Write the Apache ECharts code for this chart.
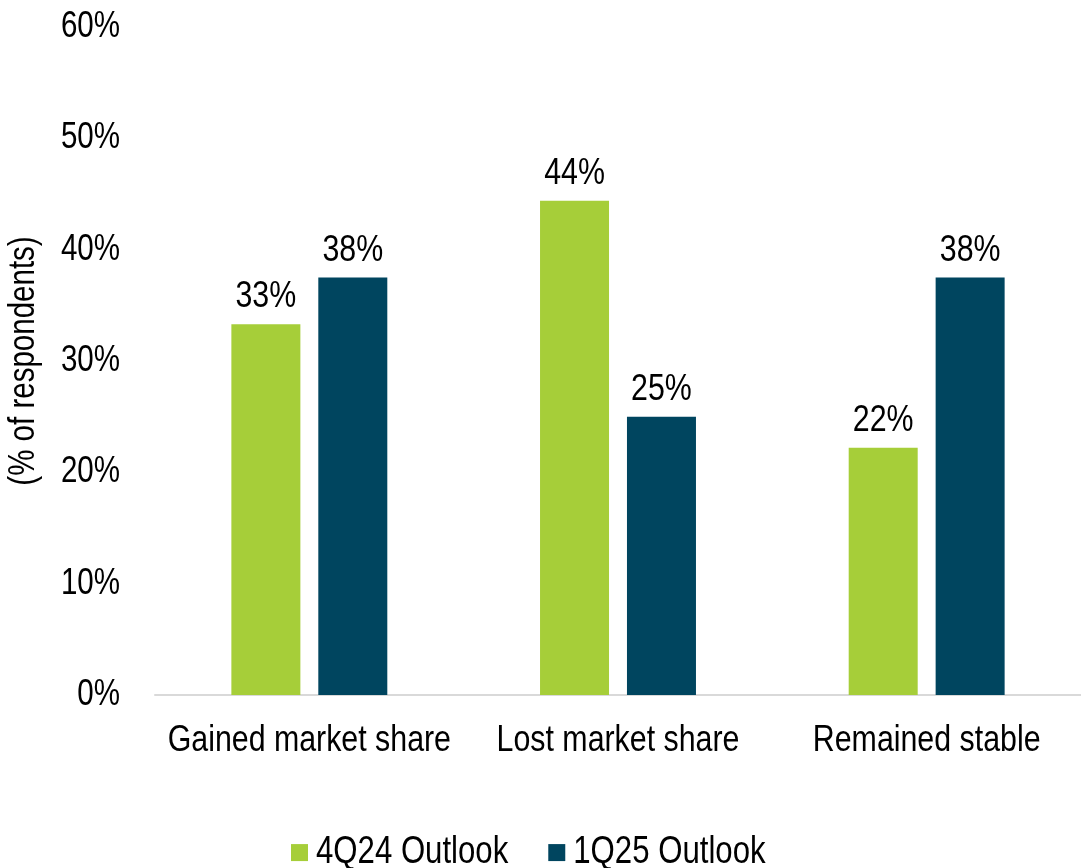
<!DOCTYPE html>
<html>
<head>
<meta charset="utf-8">
<script src="https://cdn.jsdelivr.net/npm/echarts@6/dist/echarts.min.js"></script>
<style>
  html, body { margin: 0; padding: 0; background: #fff; }
  #chart { width: 1081px; height: 868px; }
</style>
</head>
<body>
<div id="chart"></div>
<script>
const categories = ['Gained market share', 'Lost market share', 'Remained stable'];
const seriesNames = ['4Q24 Outlook', '1Q25 Outlook'];
const outlook4Q24 = [33.3, 44.4, 22.2];
const outlook1Q25 = [37.5, 25.0, 37.5];
const yTicks = { min: 0, max: 60, interval: 10 };

// Condensed lettering: no narrow face is installed, so canvas text is drawn
// and measured with a horizontal squeeze around its anchor point.
const SQUEEZE = 0.82;
(function condenseCanvasText() {
  const proto = CanvasRenderingContext2D.prototype;
  const fill = proto.fillText;
  const measure = proto.measureText;
  proto.fillText = function (text, x, y, maxWidth) {
    this.save();
    this.translate(x, y);
    this.scale(SQUEEZE, 1);
    if (maxWidth === undefined) fill.call(this, text, 0, 0);
    else fill.call(this, text, 0, 0, maxWidth / SQUEEZE);
    this.restore();
  };
  proto.measureText = function (text) {
    const m = measure.call(this, text);
    return {
      width: m.width * SQUEEZE,
      actualBoundingBoxLeft: m.actualBoundingBoxLeft * SQUEEZE,
      actualBoundingBoxRight: m.actualBoundingBoxRight * SQUEEZE,
      actualBoundingBoxAscent: m.actualBoundingBoxAscent,
      actualBoundingBoxDescent: m.actualBoundingBoxDescent,
      fontBoundingBoxAscent: m.fontBoundingBoxAscent,
      fontBoundingBoxDescent: m.fontBoundingBoxDescent
    };
  };
})();

const FONT = '"Liberation Sans", Arial, sans-serif';
const TEXT = '#000000';
const colors = ['#A6CE39', '#00455F'];

const chart = echarts.init(document.getElementById('chart'), null, { renderer: 'canvas' });

function barSeries(name, data, color) {
  return {
    name: name,
    type: 'bar',
    data: data,
    barWidth: 69,
    barGap: '26%',
    itemStyle: { color: color },
    label: {
      show: true,
      position: 'top',
      distance: 12,
      fontFamily: FONT,
      fontSize: 37,
      color: TEXT,
      formatter: p => Math.round(p.value) + '%'
    }
  };
}

chart.setOption({
  animation: false,
  textStyle: { fontFamily: FONT },
  grid: {
    left: 155, top: 27, width: 926, bottom: 173,
    containLabel: false,
    outerBoundsMode: 'none'
  },
  legend: {
    data: seriesNames,
    left: 286,
    top: 832,
    itemWidth: 17,
    itemHeight: 17,
    itemGap: 40,
    icon: 'rect',
    textStyle: { fontFamily: FONT, fontSize: 38, color: TEXT, padding: [0, 0, 0, 3] }
  },
  xAxis: {
    type: 'category',
    data: categories,
    axisLine: { lineStyle: { color: '#D9D9D9', width: 2 } },
    axisTick: { show: false },
    axisLabel: { fontFamily: FONT, fontSize: 37, color: TEXT, margin: 31, interval: 0 }
  },
  yAxis: {
    type: 'value',
    min: yTicks.min,
    max: yTicks.max,
    interval: yTicks.interval,
    name: '(% of respondents)',
    nameLocation: 'middle',
    nameGap: 116,
    nameRotate: 90,
    nameTextStyle: { fontFamily: FONT, fontSize: 36, color: TEXT },
    axisLine: { show: false },
    axisTick: { show: false },
    splitLine: { show: false },
    axisLabel: { fontFamily: FONT, fontSize: 36, color: TEXT, margin: 35, formatter: '{value}%' }
  },
  series: [
    barSeries(seriesNames[0], outlook4Q24, colors[0]),
    barSeries(seriesNames[1], outlook1Q25, colors[1])
  ]
});
</script>
</body>
</html>
